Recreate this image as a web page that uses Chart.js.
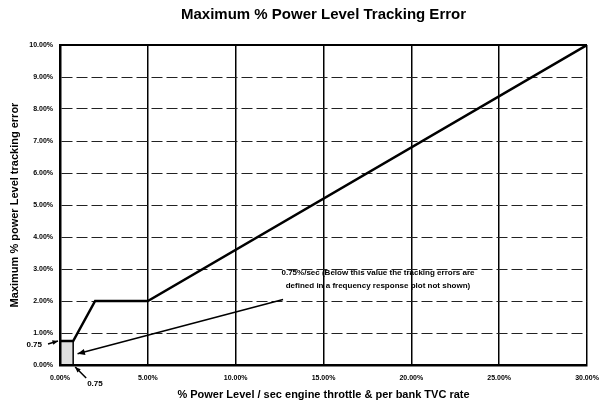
<!DOCTYPE html>
<html>
<head>
<meta charset="utf-8">
<script src="https://cdn.jsdelivr.net/npm/chart.js@4/dist/chart.umd.min.js"></script>
<style>
  body { margin: 0; background: #fff; }
  #wrap { width: 600px; height: 408px; }
</style>
</head>
<body>
<div id="wrap"><canvas id="errChart"></canvas></div>
<script>
// rate (% power level / sec) vs max tracking error (%)
const rateValues = [0, 0.75, 2, 5, 30];
const errorValues = [0.75, 0.75, 2, 2, 10];
const xTicks = [0, 5, 10, 15, 20, 25, 30];
const yTicks = [0, 1, 2, 3, 4, 5, 6, 7, 8, 9, 10];
const noteLines = ['0.75%/sec (Below this value the tracking errors are',
                   'defined in a frequency response plot not shown)'];
const lowLimit = 0.75;

const FONT = "'Liberation Sans', Arial, sans-serif";

function arrow(ctx, x1, y1, x2, y2, head) {
  const a = Math.atan2(y2 - y1, x2 - x1);
  ctx.beginPath();
  ctx.moveTo(x1, y1);
  ctx.lineTo(x2, y2);
  ctx.stroke();
  ctx.beginPath();
  ctx.moveTo(x2, y2);
  ctx.lineTo(x2 - head * Math.cos(a - 0.4), y2 - head * Math.sin(a - 0.4));
  ctx.lineTo(x2 - head * Math.cos(a + 0.4), y2 - head * Math.sin(a + 0.4));
  ctx.closePath();
  ctx.fill();
}

const extras = {
  id: 'extras',
  beforeDatasetsDraw(chart) {
    const { ctx, scales: { x, y }, chartArea } = chart;
    ctx.save();
    // shaded region below 0.75
    const bx = x.getPixelForValue(0), by = y.getPixelForValue(lowLimit);
    const bw = x.getPixelForValue(lowLimit) - bx, bh = y.getPixelForValue(0) - by;
    ctx.fillStyle = 'rgba(0,0,0,0.12)';
    ctx.fillRect(bx, by, bw, bh);
    ctx.strokeStyle = '#000';
    ctx.lineWidth = 1.5;
    ctx.strokeRect(bx, by, bw, bh);
    // top border
    ctx.lineWidth = 2;
    ctx.beginPath();
    ctx.moveTo(chartArea.left, chartArea.top);
    ctx.lineTo(chartArea.right, chartArea.top);
    ctx.stroke();
    ctx.restore();
  },
  afterDraw(chart) {
    const { ctx, scales: { x, y }, chartArea } = chart;
    ctx.save();
    ctx.fillStyle = '#000';
    ctx.strokeStyle = '#000';
    // title centred over plot area
    ctx.font = 'bold 15px ' + FONT;
    ctx.textAlign = 'center';
    ctx.textBaseline = 'middle';
    ctx.fillText('Maximum % Power Level Tracking Error', (chartArea.left + chartArea.right) / 2, 15);

    // note text
    ctx.font = 'bold 8px ' + FONT;
    const nx = x.getPixelForValue(18.1);
    ctx.fillText(noteLines[0], nx, y.getPixelForValue(2.87));
    ctx.fillText(noteLines[1], nx, y.getPixelForValue(2.47));
    ctx.lineWidth = 1.5;
    arrow(ctx, x.getPixelForValue(12.7), y.getPixelForValue(2.05),
          x.getPixelForValue(1.0), y.getPixelForValue(0.35), 8);

    // 0.75 markers on the axes
    const ly = y.getPixelForValue(lowLimit);
    ctx.font = 'bold 8px ' + FONT;
    ctx.textAlign = 'right';
    ctx.fillText('0.75', chartArea.left - 18, ly + 4);
    arrow(ctx, chartArea.left - 12, ly + 3, chartArea.left - 2, ly, 6);
    const lx = x.getPixelForValue(lowLimit);
    ctx.textAlign = 'left';
    ctx.fillText('0.75', lx + 14, chartArea.bottom + 19);
    arrow(ctx, lx + 13, chartArea.bottom + 13, lx + 2, chartArea.bottom + 2, 6);
    ctx.restore();
  }
};

new Chart(document.getElementById('errChart'), {
  type: 'scatter',
  data: {
    datasets: [{
      data: rateValues.map((v, i) => ({ x: v, y: errorValues[i] })),
      showLine: true,
      borderColor: '#000',
      borderWidth: 2.5,
      pointRadius: 0,
      fill: false
    }]
  },
  options: {
    responsive: true,
    maintainAspectRatio: false,
    animation: false,
    layout: { padding: { top: 45, right: 4, left: 0, bottom: 0 } },
    plugins: {
      legend: { display: false },
      tooltip: { enabled: false }
    },
    scales: {
      x: {
        type: 'linear',
        min: 0,
        max: 30,
        afterBuildTicks: s => { s.ticks = xTicks.map(v => ({ value: v })); },
        afterFit: s => { s.height = 43; s.paddingRight = 13; s.paddingLeft = 0; },
        ticks: {
          color: '#000',
          font: { family: FONT, size: 7, weight: 'bold' },
          padding: 9,
          maxRotation: 0,
          callback: v => v.toFixed(2) + '%'
        },
        grid: { color: '#000', lineWidth: 1.5, drawTicks: false },
        border: { color: '#000', width: 2.5 },
        title: {
          display: true,
          text: '% Power Level / sec engine throttle & per bank TVC rate',
          color: '#000',
          font: { family: FONT, size: 11, weight: 'bold' },
          padding: { top: 4, bottom: 6 }
        }
      },
      y: {
        type: 'linear',
        min: 0,
        max: 10,
        afterBuildTicks: s => { s.ticks = yTicks.map(v => ({ value: v })); },
        afterFit: s => { s.width = 60; },
        ticks: {
          color: '#000',
          font: { family: FONT, size: 7, weight: 'bold' },
          padding: 7,
          callback: v => v.toFixed(2) + '%'
        },
        grid: { color: '#222', lineWidth: 1, drawTicks: false },
        border: { color: '#000', width: 2.5, dash: [11, 4] },
        title: {
          display: true,
          text: 'Maximum % power Level tracking error',
          color: '#000',
          font: { family: FONT, size: 11, weight: 'bold' },
          padding: { top: 8, bottom: 0 }
        }
      }
    }
  },
  plugins: [extras]
});
</script>
</body>
</html>
